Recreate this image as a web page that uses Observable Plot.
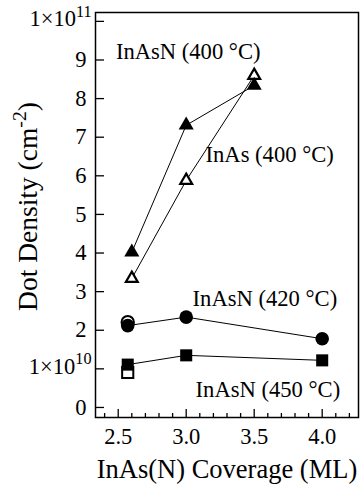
<!DOCTYPE html>
<html><head><meta charset="utf-8">
<script src="https://cdn.jsdelivr.net/npm/d3@7"></script>
<script src="https://cdn.jsdelivr.net/npm/@observablehq/plot@0.6"></script>
<style>
html,body{margin:0;padding:0;background:#fff;}
svg text{font-family:'Liberation Serif','Times New Roman',serif;}
</style>
</head><body><div id="chart"></div>
<script>
// ---- data (dot density in units of 1e10 cm^-2) ----
const coverageTri = [2.6, 3.0, 3.5];
const inasn400 = [4.02, 7.31, 8.34];      // filled triangles
const inas400 = [3.34, 5.88, 8.6];        // open triangles
const coverageLow = [2.57, 3.0, 4.0];
const inasn420 = [2.12, 2.34, 1.78];      // filled circles
const inasn450 = [1.11, 1.35, 1.22];      // filled squares
const openCircleX = [2.57];
const openCircleY = [2.21];
const openSquareX = [2.57];
const openSquareY = [0.91];

const yTicks = [0, 1, 2, 3, 4, 5, 6, 7, 8, 9, 10];
const yTickLabels = ["0", "1×10^10^", "2", "3", "4", "5", "6", "7", "8", "9", "1×10^11^"];
const xMajor = [2.5, 3.0, 3.5, 4.0];
const xTickLabels = ["2.5", "3.0", "3.5", "4.0"];
const xMinor = [2.4, 2.6, 2.7, 2.8, 2.9, 3.1, 3.2, 3.3, 3.4, 3.6, 3.7, 3.8, 3.9, 4.1, 4.2];

const labelText = ["InAsN (400 °C)", "InAs (400 °C)", "InAsN (420 °C)", "InAsN (450 °C)"];
const labelX = [2.483, 3.142, 3.047, 3.069];
const labelY = [9.22, 6.54, 2.81, 0.45];

const xTitle = "InAs(N) Coverage (ML)";
const yTitle = "Dot Density (cm^-2^)";

// ---- build ----
const pts = (xs, ys) => xs.map((x, i) => ({x, y: ys[i]}));
const A = pts(coverageTri, inasn400);
const B = pts(coverageTri, inas400);
const C = pts(coverageLow, inasn420);
const D = pts(coverageLow, inasn450);
const OC = pts(openCircleX, openCircleY);
const OS = pts(openSquareX, openSquareY);
const labels = labelText.map((t, i) => ({t, x: labelX[i], y: labelY[i]}));

const W = 360, H = 486, mL = 95, mR = 2, mT = 12, mB = 69;
const pw = W - mL - mR, ph = H - mT - mB;
const FF = "'Liberation Serif', 'Times New Roman', serif";

const chart = Plot.plot({
  width: W, height: H,
  marginLeft: mL, marginRight: mR, marginTop: mT, marginBottom: mB,
  x: {domain: [2.333, 4.267]},
  y: {domain: [-0.26, 10.23]},
  style: {fontFamily: FF, fontSize: "22px", background: "white", color: "black"},
  marks: [
    Plot.tickY(yTicks, {y: d => d, insetRight: pw - 9, stroke: "black", strokeWidth: 1.3}),
    Plot.tickX(xMinor, {x: d => d, insetTop: ph - 4, stroke: "black", strokeWidth: 1.3}),
    Plot.tickX(xMajor, {x: d => d, insetTop: ph - 8, stroke: "black", strokeWidth: 1.3}),
    Plot.axisY(yTicks, {tickSize: 0, tickPadding: 9, fontSize: 22.5, label: null,
      tickFormat: d => yTickLabels[yTicks.indexOf(d)]}),
    Plot.axisX(xMajor, {tickSize: 0, tickPadding: 11, fontSize: 22.5, label: null,
      tickFormat: d => xTickLabels[xMajor.indexOf(d)]}),
    Plot.frame({stroke: "black", strokeWidth: 1.5}),
    Plot.line(A, {x: "x", y: "y", stroke: "black", strokeWidth: 1}),
    Plot.line(B, {x: "x", y: "y", stroke: "black", strokeWidth: 1}),
    Plot.line(C, {x: "x", y: "y", stroke: "black", strokeWidth: 1}),
    Plot.line(D, {x: "x", y: "y", stroke: "black", strokeWidth: 1}),
    Plot.dot(B, {x: "x", y: "y", symbol: "triangle", r: 4.4, fill: "white", stroke: "black", strokeWidth: 2.2}),
    Plot.dot(OC, {x: "x", y: "y", symbol: "circle", r: 6.2, fill: "white", stroke: "black", strokeWidth: 2}),
    Plot.dot(OS, {x: "x", y: "y", symbol: "square", r: 6.3, fill: "white", stroke: "black", strokeWidth: 2}),
    Plot.dot(A, {x: "x", y: "y", symbol: "triangle", r: 5.6, fill: "black", stroke: "none"}),
    Plot.dot(C, {x: "x", y: "y", symbol: "circle", r: 6.8, fill: "black", stroke: "none"}),
    Plot.dot(D, {x: "x", y: "y", symbol: "square", r: 6.8, fill: "black", stroke: "none"}),
    Plot.text(labels, {x: "x", y: "y", text: "t", textAnchor: "start", lineAnchor: "middle", fontSize: 22.6, fontFamily: FF, fill: "black"}),
    Plot.text([xTitle], {frameAnchor: "bottom", dy: 52, textAnchor: "middle", lineAnchor: "middle", fontSize: 26.5, fontFamily: FF, fill: "black"}),
    Plot.text([yTitle], {frameAnchor: "left", dx: -67, dy: -8.5, rotate: -90, textAnchor: "middle", lineAnchor: "middle", fontSize: 27.5, fontFamily: FF, fill: "black"})
  ]
});
document.getElementById("chart").appendChild(chart);

// superscripts
const ns = "http://www.w3.org/2000/svg";
chart.querySelectorAll("text").forEach(t => {
  const s = t.textContent;
  if (!s.includes("^")) return;
  const [pre, sup, post = ""] = s.split("^");
  const fs = parseFloat(getComputedStyle(t).fontSize) || 22;
  const supFs = fs * 0.72, rise = fs * 0.42;
  while (t.firstChild) t.removeChild(t.firstChild);
  const a = document.createElementNS(ns, "tspan"); a.textContent = pre; t.appendChild(a);
  const b = document.createElementNS(ns, "tspan"); b.textContent = sup;
  b.setAttribute("dy", -rise); b.setAttribute("font-size", supFs); t.appendChild(b);
  if (post) {
    const c = document.createElementNS(ns, "tspan"); c.textContent = post;
    c.setAttribute("dy", rise); t.appendChild(c);
  }
  if (pre.includes("×")) { t.setAttribute("x", 5); t.setAttribute("y", 5); }
});
</script>
</body></html>
